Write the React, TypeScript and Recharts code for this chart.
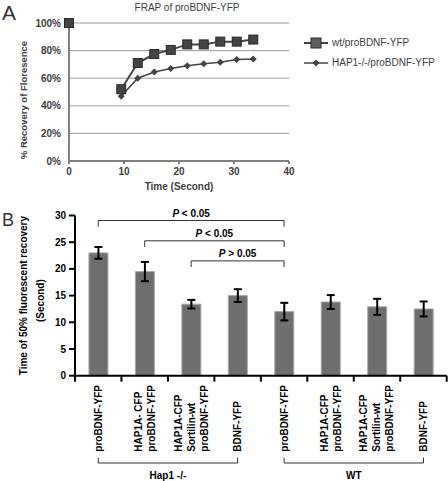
import React from "react";
import {
  LineChart,
  Line,
  XAxis,
  YAxis,
  CartesianGrid,
  BarChart,
  Bar,
  ErrorBar,
  ReferenceLine,
  Label,
} from "recharts";

// ---- panel A: FRAP curves ----
// the 5 s row is only a break: the 0 s point is not joined to the rest in the original
const times = [0, 5, 9.5, 12.5, 15.5, 18.5, 21.5, 24.5, 27.5, 30.5, 33.5];
const wtValues = [100, null, 52, 71, 77.5, 80.5, 84.5, 84.5, 86.5, 86.5, 88];
const hapValues = [null, null, 47, 60, 64.5, 67, 69, 70.5, 71.5, 73.5, 74];
const seriesNames = ["wt/proBDNF-YFP", "HAP1-/-/proBDNF-YFP"];
const xTicksA = [0, 10, 20, 30, 40];
const yTicksA = [0, 20, 40, 60, 80, 100];

// ---- panel B: time of 50% recovery ----
const categories = ["k1", "k2", "k3", "k4", "w1", "w2", "w3", "w4"];
const tickLines = [
  ["proBDNF-YFP"],
  ["HAP1A- CFP", "proBDNF-YFP"],
  ["HAP1A-CFP", "Sortilin-wt", "proBDNF-YFP"],
  ["BDNF-YFP"],
  ["proBDNF-YFP"],
  ["HAP1A-CFP", "proBDNF-YFP"],
  ["HAP1A-CFP", "Sortilin-wt", "proBDNF-YFP"],
  ["BDNF-YFP"],
];
const halfTimes = [23, 19.5, 13.4, 15, 12, 13.8, 12.9, 12.5];
const halfErrors = [1.1, 1.8, 0.8, 1.2, 1.65, 1.3, 1.5, 1.4];
const yTicksB = [0, 5, 10, 15, 20, 25, 30];
const sigFrom = [0, 1, 2];
const sigTo = [4, 4, 4];
const sigLevel = [29.06, 25.26, 21.5];
const sigText = ["< 0.05", "< 0.05", "> 0.05"];
const groupNames = ["Hap1 -/-", "WT"];
const groupFrom = [0, 4];
const groupTo = [3, 7];
const groupLevel = -16.35;

const frapData = times.map((t, i) => ({ t, wt: wtValues[i], hap: hapValues[i] }));
const barData = categories.map((id, i) => ({ id, v: halfTimes[i], err: halfErrors[i] }));

const FONT = '"Liberation Sans", Arial, sans-serif';
const GREY_TXT = "#404040";
const PLOT_B_W = 371.7;
const BAND = PLOT_B_W / categories.length;

const SquareDot = (p: any) => {
  if (p.cy == null || p.value == null) return <g key={`s${p.index}`} />;
  return (
    <rect key={`s${p.index}`} x={p.cx - 4.5} y={p.cy - 4.5} width={9} height={9} fill="#444" stroke="#2a2a2a" strokeWidth={1} />
  );
};

const DiamondDot = (p: any) => {
  if (p.cy == null || p.value == null) return <g key={`d${p.index}`} />;
  const { cx, cy } = p;
  return (
    <polygon key={`d${p.index}`} points={`${cx},${cy - 3.5} ${cx + 3.5},${cy} ${cx},${cy + 3.5} ${cx - 3.5},${cy}`} fill="#444" />
  );
};

const CatTick = (props: any) => {
  const { x, y, payload } = props;
  const idx = categories.indexOf(payload.value);
  const lines = tickLines[idx] || [];
  const n = lines.length;
  return (
    <g>
      <line x1={x - BAND / 2} y1={y} x2={x - BAND / 2} y2={y + 6} stroke="#000" strokeWidth={2} />
      {idx === categories.length - 1 && (
        <line x1={x + BAND / 2} y1={y} x2={x + BAND / 2} y2={y + 6} stroke="#000" strokeWidth={2} />
      )}
      {lines.map((s, i) => {
        const lx = x + (i - (n - 1) / 2) * 13 + 3.5;
        const ly = y + 76;
        return (
          <text key={i} x={lx} y={ly} transform={`rotate(-90 ${lx} ${ly})`} textAnchor="start" fontSize={10} fontWeight={700} fill="#000" fontFamily={FONT}>
            {s}
          </text>
        );
      })}
    </g>
  );
};

const pLabel = (text: string) => (props: any) => {
  const vb = props.viewBox || {};
  return (
    <text x={vb.x + vb.width / 2} y={vb.y - 4} textAnchor="middle" fontSize={10} fontWeight={700} fill="#000" fontFamily={FONT}>
      <tspan fontStyle="italic">P</tspan>
      {` ${text}`}
    </text>
  );
};

const groupLabel = (text: string) => (props: any) => {
  const vb = props.viewBox || {};
  return (
    <text x={vb.x + vb.width / 2} y={vb.y + 16} textAnchor="middle" fontSize={10} fontWeight={700} fill="#000" fontFamily={FONT}>
      {text}
    </text>
  );
};

const FrapChart = () => (
  <LineChart width={448} height={195} data={frapData} margin={{ top: 23, right: 159, bottom: 4, left: 9 }}>
    <CartesianGrid vertical={false} stroke="#9a9a9a" />
    <XAxis
      dataKey="t"
      type="number"
      domain={[0, 40]}
      ticks={xTicksA}
      height={30}
      stroke="#808080"
      strokeWidth={2}
      tickSize={3}
      tickMargin={4}
      tick={{ fill: GREY_TXT, fontSize: 10, fontWeight: 700, fontFamily: FONT }}
    >
      <Label
        content={(p: any) => (
          <text x={p.viewBox.x + p.viewBox.width / 2} y={p.viewBox.y + 29} textAnchor="middle" fontSize={10} fontWeight={700} fill={GREY_TXT} fontFamily={FONT}>
            Time (Second)
          </text>
        )}
      />
    </XAxis>
    <YAxis
      domain={[0, 100]}
      ticks={yTicksA}
      tickFormatter={(v: number) => `${v}%`}
      width={60}
      stroke="#808080"
      strokeWidth={2}
      tickLine={false}
      tick={{ fill: GREY_TXT, fontSize: 10, fontWeight: 700, fontFamily: FONT }}
    >
      <Label
        content={(p: any) => {
          const cx = 27;
          const cy = p.viewBox.y + p.viewBox.height / 2 + 8;
          return (
            <text x={cx} y={cy} transform={`rotate(-90 ${cx} ${cy})`} textAnchor="middle" fontSize={9.5} fontWeight={700} fill={GREY_TXT} fontFamily={FONT}>
              % Recovery of Floresence
            </text>
          );
        }}
      />
    </YAxis>
    <Line dataKey="wt" name={seriesNames[0]} stroke="#444" strokeWidth={2} dot={SquareDot} isAnimationActive={false} />
    <Line dataKey="hap" name={seriesNames[1]} stroke="#444" strokeWidth={1.5} dot={DiamondDot} isAnimationActive={false} />
  </LineChart>
);

const RecoveryChart = () => (
  <BarChart width={448} height={286} data={barData} margin={{ top: 20.5, right: 1.3, bottom: 5.3, left: 15 }} barCategoryGap="30%">
    <XAxis dataKey="id" height={100} stroke="#000" strokeWidth={2} tickLine={false} tickSize={0} tickMargin={0} interval={0} tick={<CatTick />} />
    <YAxis
      domain={[0, 30]}
      ticks={yTicksB}
      width={60}
      stroke="#000"
      strokeWidth={2}
      tickSize={6}
      tickMargin={3}
      tickLine={{ stroke: "#000", strokeWidth: 2 }}
      tick={{ fill: "#000", fontSize: 10, fontWeight: 700, fontFamily: FONT }}
    >
      <Label
        content={(p: any) => {
          const cy = p.viewBox.y + p.viewBox.height / 2;
          return (
            <g>
              <text x={27} y={cy} transform={`rotate(-90 27 ${cy})`} textAnchor="middle" fontSize={10} fontWeight={700} fill="#000" fontFamily={FONT}>
                Time of 50% fluorescent recovery
              </text>
              <text x={44} y={cy + 5} transform={`rotate(-90 44 ${cy + 5})`} textAnchor="middle" fontSize={10} fontWeight={700} fill="#000" fontFamily={FONT}>
                (Second)
              </text>
            </g>
          );
        }}
      />
    </YAxis>
    <Bar dataKey="v" fill="#6e6e6e" stroke="#a8a8a8" strokeWidth={1} isAnimationActive={false}>
      <ErrorBar dataKey="err" direction="y" width={4} strokeWidth={2} stroke="#000" />
    </Bar>
    {sigFrom.map((f, i) => (
      <ReferenceLine
        key={`sh${i}`}
        segment={[{ x: categories[f], y: sigLevel[i] }, { x: categories[sigTo[i]], y: sigLevel[i] }]}
        stroke="#333"
        strokeWidth={1}
        ifOverflow="visible"
        label={pLabel(sigText[i])}
      />
    ))}
    {sigFrom.flatMap((f, i) =>
      [f, sigTo[i]].map((c, j) => (
        <ReferenceLine
          key={`sv${i}-${j}`}
          segment={[{ x: categories[c], y: sigLevel[i] }, { x: categories[c], y: sigLevel[i] - 1.15 }]}
          stroke="#333"
          strokeWidth={1}
          ifOverflow="visible"
        />
      ))
    )}
    {groupNames.map((g, i) => (
      <ReferenceLine
        key={`gh${i}`}
        segment={[{ x: categories[groupFrom[i]], y: groupLevel }, { x: categories[groupTo[i]], y: groupLevel }]}
        stroke="#333"
        strokeWidth={1}
        ifOverflow="visible"
        label={groupLabel(g)}
      />
    ))}
    {groupNames.flatMap((g, i) =>
      [groupFrom[i], groupTo[i]].map((c, j) => (
        <ReferenceLine
          key={`gv${i}-${j}`}
          segment={[{ x: categories[c], y: groupLevel }, { x: categories[c], y: groupLevel + 1 }]}
          stroke="#333"
          strokeWidth={1}
          ifOverflow="visible"
        />
      ))
    )}
  </BarChart>
);

const LegendA = () => (
  <div style={{ position: "absolute", left: 303, top: 33, fontSize: 10, color: GREY_TXT, lineHeight: "20px" }}>
    {seriesNames.map((name, i) => (
      <div key={name} style={{ display: "flex", alignItems: "center", height: 20 }}>
        <svg width={26} height={12} style={{ marginRight: 3 }}>
          <line x1={1} y1={6} x2={25} y2={6} stroke="#444" strokeWidth={i === 0 ? 2 : 1.5} />
          {i === 0 ? (
            <rect x={8} y={1} width={10} height={10} fill="#5e5e5e" stroke="#2a2a2a" />
          ) : (
            <polygon points="13,2.5 16.5,6 13,9.5 9.5,6" fill="#444" />
          )}
        </svg>
        <span>{name}</span>
      </div>
    ))}
  </div>
);

export default function App() {
  return (
    <div style={{ position: "absolute", left: 0, top: 0, width: 448, height: 481, background: "#fff", fontFamily: FONT, overflow: "hidden" }}>
      <div style={{ position: "absolute", left: 2, top: 2, fontSize: 21, lineHeight: "21px", color: "#333" }}>A</div>
      <div style={{ position: "absolute", left: 87, top: 2.5, width: 200, textAlign: "center", fontSize: 10, lineHeight: "10px", color: GREY_TXT }}>
        FRAP of proBDNF-YFP
      </div>
      <div style={{ position: "absolute", left: 0, top: 0 }}>
        <FrapChart />
      </div>
      <LegendA />
      <div style={{ position: "absolute", left: 2, top: 211, fontSize: 18, lineHeight: "18px", color: "#333" }}>B</div>
      <div style={{ position: "absolute", left: 0, top: 195 }}>
        <RecoveryChart />
      </div>
    </div>
  );
}
